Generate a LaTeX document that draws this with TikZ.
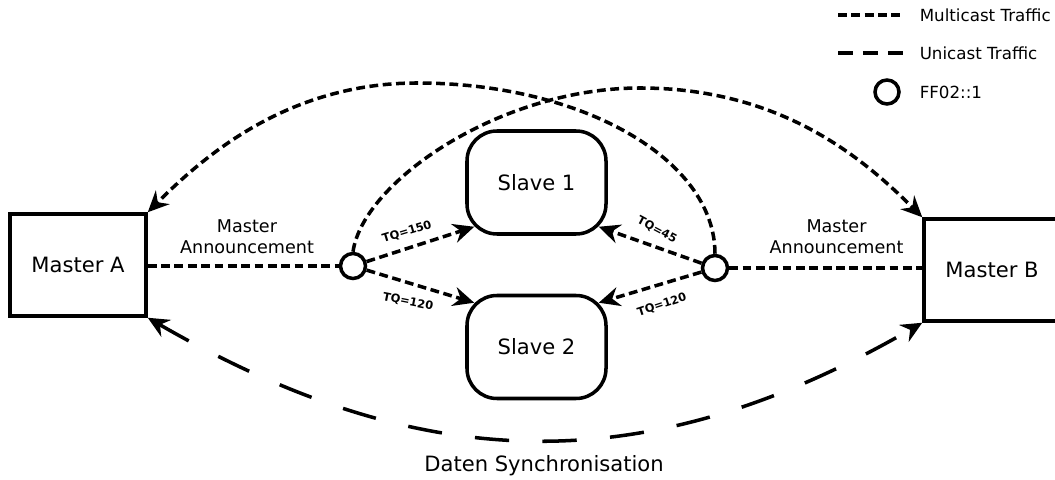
\documentclass[tikz,border=0pt]{standalone}
\usepackage{fontspec}
\setmainfont{DejaVu Sans}
\usetikzlibrary{calc, arrows.meta}

\begin{document}
\begin{tikzpicture}[>={Stealth[length=12pt,width=11pt,inset=4pt]}, line width=2pt,
  multicast/.style={dash pattern=on 5pt off 2.6pt},
  unicast/.style={dash pattern=on 19.5pt off 19pt},
  master/.style={draw, minimum width=2.72cm, minimum height=2.04cm, inner sep=0pt, font=\fontsize{12}{14}\selectfont},
  slave/.style={master, rounded corners=0.6cm, minimum width=2.78cm, minimum height=2.06cm},
  group/.style={draw, circle, minimum size=0.5cm, inner sep=0pt},
  tq/.style={font=\fontsize{6.5}{7}\selectfont\bfseries, inner sep=0pt},
  lbl/.style={font=\fontsize{10}{12}\selectfont, align=center},
  legend/.style={anchor=west, inner sep=0pt, font=\fontsize{9.5}{11}\selectfont}]
\useasboundingbox (0,0) rectangle (21.1,9.58);

\node[master] (mA) at (1.56,4.28) {Master A};
\node[master] (mB) at (19.84,4.18) {Master B};
\node[slave] (s1) at (10.73,5.93) {Slave 1};
\node[slave] (s2) at (10.73,2.64) {Slave 2};
\node[group] (lc) at (7.06,4.26) {};
\node[group] (rc) at (14.3,4.22) {};

\node[lbl] (annA) at (4.94,4.84) {Master\\Announcement};
\node[lbl] (annB) at (16.73,4.84) {Master\\Announcement};

\draw[multicast] (mA.east |- lc) -- (lc);
\draw[multicast] (rc) -- (rc -| mB.west);

\draw[multicast,->] (lc) -- ($(s1.south west)+(0.18,0.18)$);
\draw[multicast,->] (lc) -- ($(s2.north west)+(0.18,-0.18)$);
\draw[multicast,->] (rc) -- ($(s1.south east)+(-0.18,0.18)$);
\draw[multicast,->] (rc) -- ($(s2.north east)+(-0.18,-0.18)$);

\node[tq, rotate=17] (tq1) at (8.14,4.94) {TQ=150};
\node[tq, rotate=-11] (tq2) at (8.16,3.54) {TQ=120};
\node[tq, rotate=-28] (tq3) at (13.14,4.98) {TQ=45};
\node[tq, rotate=18] (tq4) at (13.24,3.48) {TQ=120};

\coordinate (apexA) at (8.34,7.92);
\coordinate (apexB) at (12.8,7.82);
\draw[multicast,->] (rc.north) .. controls +(0,1.9) and +(3.28,0) .. (apexA)
  .. controls +(-2.6,0) and +(1.1,1.1) .. (mA.north east);
\draw[multicast,->] (lc.north) .. controls +(0.2,1.4) and +(-2.8,0) .. (apexB)
  .. controls +(2.8,0) and +(-1.2,1.2) .. (mB.north west);
\draw[unicast,<->] (mA.south east) to[out=-30,in=210,looseness=1.05] (mB.south west);

\node[font=\fontsize{12}{14}\selectfont] (sync) at (10.88,0.26) {Daten Synchronisation};

% legend
\node[legend] (lmulti) at (18.36,9.28) {Multicast Traffic};
\node[legend] (luni) at (18.36,8.52) {Unicast Traffic};
\node[legend] (lgroup) at (18.36,7.74) {FF02::1};
\draw[multicast] (16.76,9.28) -- (18.0,9.28);
\draw[dash pattern=on 8.5pt off 5.7pt] (16.76,8.52) -- (18.06,8.52);
\node[group, minimum size=0.48cm] (lcirc) at (17.74,7.74) {};
\end{tikzpicture}
\end{document}
